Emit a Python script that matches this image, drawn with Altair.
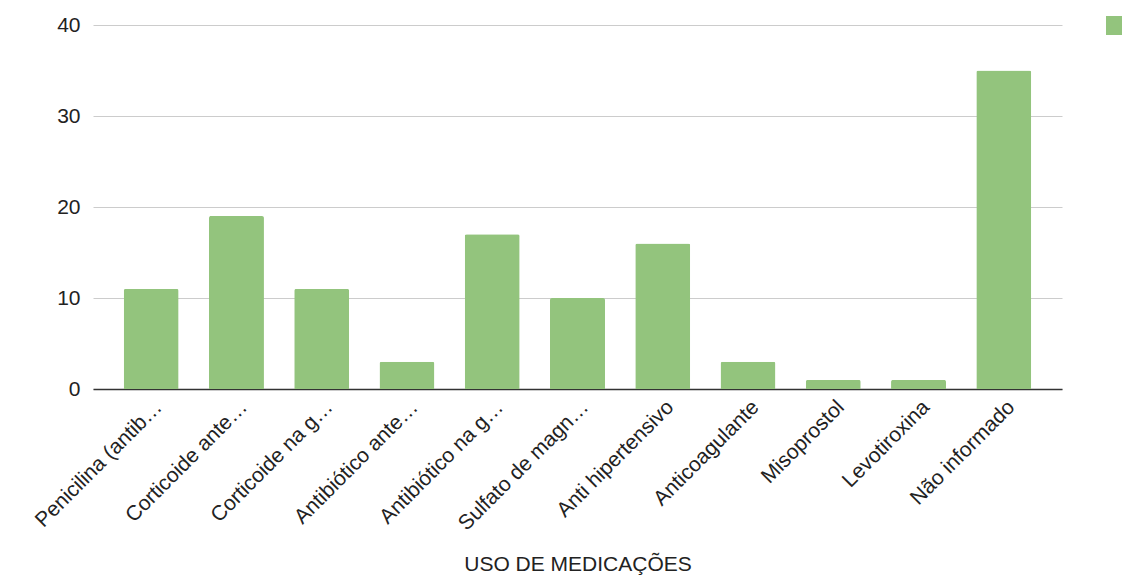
import altair as alt
import pandas as pd

# Medication use counts
categories = [
    "Penicilina (antib…",
    "Corticoide ante…",
    "Corticoide na g…",
    "Antibiótico ante…",
    "Antibiótico na g…",
    "Sulfato de magn…",
    "Anti hipertensivo",
    "Anticoagulante",
    "Misoprostol",
    "Levotiroxina",
    "Não informado",
]
counts = [11, 19, 11, 3, 17, 10, 16, 3, 1, 1, 35]
series_name = "Contagem"

df = pd.DataFrame({"medicacao": categories, "total": counts, "serie": series_name})

FONT = "Liberation Sans"
GREEN = "#93c47d"

bars = alt.Chart(df).mark_bar(
    cornerRadiusTopLeft=2, cornerRadiusTopRight=2
).encode(
    x=alt.X(
        "medicacao:N",
        sort=categories,
        scale=alt.Scale(paddingInner=0.355, paddingOuter=0.36),
        axis=alt.Axis(
            title="USO DE MEDICAÇÕES",
            titleFont=FONT,
            titleFontSize=21,
            titleFontWeight="normal",
            titleColor="#222222",
            titleY=181,
            titleBaseline="alphabetic",
            labelAngle=-45,
            labelFont=FONT,
            labelFontSize=21,
            labelColor="#222222",
            labelPadding=7,
            ticks=False,
            domainColor="#333333",
            domainWidth=1.6,
            grid=False,
        ),
    ),
    y=alt.Y(
        "total:Q",
        scale=alt.Scale(domain=[0, 40], nice=False),
        axis=alt.Axis(
            title=None,
            values=[0, 10, 20, 30, 40],
            labelFont=FONT,
            labelFontSize=21,
            labelColor="#222222",
            labelPadding=13,
            ticks=False,
            domain=False,
            gridColor="#cccccc",
            gridWidth=1,
        ),
    ),
    color=alt.Color(
        "serie:N",
        scale=alt.Scale(range=[GREEN]),
        legend=alt.Legend(
            title=None,
            orient="none",
            legendX=1013,
            legendY=-9,
            padding=0,
            symbolType="square",
            symbolSize=361,
            symbolStrokeWidth=0,
            labelExpr="''",
            labelFontSize=1,
        ),
    ),
)

chart = bars.properties(
    width=969,
    height=364,
    autosize=alt.AutoSizeParams(type="none"),
    padding={"left": 93, "top": 25, "right": 60, "bottom": 188},
    background="white",
).configure_view(stroke=None)

chart.save("out.html", embed_options={"renderer": "svg", "actions": False})
